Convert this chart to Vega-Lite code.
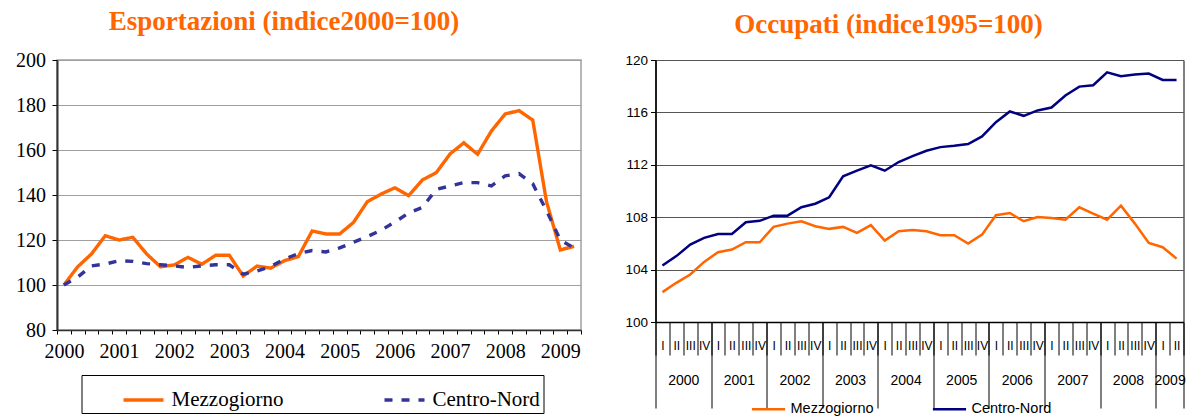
{
  "$schema": "https://vega.github.io/schema/vega-lite/v6.json",
  "background": "white",
  "padding": {"left": 14, "top": 7, "right": 0, "bottom": 0},
  "bounds": "flush",
  "spacing": 74.5,
  "config": {"view": {"stroke": null}, "font": "Liberation Sans", "axis": {"labelFlush": false, "labelOverlap": false}},
  "resolve": {"scale": {"color": "independent", "strokeDash": "independent"}, "legend": {"color": "independent", "strokeDash": "independent"}},
  "datasets": {
    "exp": [
      {"t": 2000.125, "s": "Mezzogiorno", "v": 100}, {"t": 2000.375, "s": "Mezzogiorno", "v": 108.1}, {"t": 2000.625, "s": "Mezzogiorno", "v": 113.8}, {"t": 2000.875, "s": "Mezzogiorno", "v": 121.9},
      {"t": 2001.125, "s": "Mezzogiorno", "v": 120}, {"t": 2001.375, "s": "Mezzogiorno", "v": 121.2}, {"t": 2001.625, "s": "Mezzogiorno", "v": 113.8}, {"t": 2001.875, "s": "Mezzogiorno", "v": 108.1},
      {"t": 2002.125, "s": "Mezzogiorno", "v": 108.9}, {"t": 2002.375, "s": "Mezzogiorno", "v": 112.3}, {"t": 2002.625, "s": "Mezzogiorno", "v": 109.2}, {"t": 2002.875, "s": "Mezzogiorno", "v": 113.2},
      {"t": 2003.125, "s": "Mezzogiorno", "v": 113.2}, {"t": 2003.375, "s": "Mezzogiorno", "v": 104}, {"t": 2003.625, "s": "Mezzogiorno", "v": 108.4}, {"t": 2003.875, "s": "Mezzogiorno", "v": 107.5},
      {"t": 2004.125, "s": "Mezzogiorno", "v": 110.8}, {"t": 2004.375, "s": "Mezzogiorno", "v": 112.6}, {"t": 2004.625, "s": "Mezzogiorno", "v": 124}, {"t": 2004.875, "s": "Mezzogiorno", "v": 122.7},
      {"t": 2005.125, "s": "Mezzogiorno", "v": 122.7}, {"t": 2005.375, "s": "Mezzogiorno", "v": 127.8}, {"t": 2005.625, "s": "Mezzogiorno", "v": 137}, {"t": 2005.875, "s": "Mezzogiorno", "v": 140.4},
      {"t": 2006.125, "s": "Mezzogiorno", "v": 143.2}, {"t": 2006.375, "s": "Mezzogiorno", "v": 139.7}, {"t": 2006.625, "s": "Mezzogiorno", "v": 146.7}, {"t": 2006.875, "s": "Mezzogiorno", "v": 149.9},
      {"t": 2007.125, "s": "Mezzogiorno", "v": 158.2}, {"t": 2007.375, "s": "Mezzogiorno", "v": 163.2}, {"t": 2007.625, "s": "Mezzogiorno", "v": 158.1}, {"t": 2007.875, "s": "Mezzogiorno", "v": 168.4},
      {"t": 2008.125, "s": "Mezzogiorno", "v": 176}, {"t": 2008.375, "s": "Mezzogiorno", "v": 177.5}, {"t": 2008.625, "s": "Mezzogiorno", "v": 173.3}, {"t": 2008.875, "s": "Mezzogiorno", "v": 137},
      {"t": 2009.125, "s": "Mezzogiorno", "v": 115.6}, {"t": 2009.375, "s": "Mezzogiorno", "v": 117.2},
      {"t": 2000.125, "s": "Centro-Nord", "v": 100}, {"t": 2000.375, "s": "Centro-Nord", "v": 103.5}, {"t": 2000.625, "s": "Centro-Nord", "v": 108.5}, {"t": 2000.875, "s": "Centro-Nord", "v": 109.3},
      {"t": 2001.125, "s": "Centro-Nord", "v": 110.8}, {"t": 2001.375, "s": "Centro-Nord", "v": 110.5}, {"t": 2001.625, "s": "Centro-Nord", "v": 109.5}, {"t": 2001.875, "s": "Centro-Nord", "v": 109},
      {"t": 2002.125, "s": "Centro-Nord", "v": 108.5}, {"t": 2002.375, "s": "Centro-Nord", "v": 107.8}, {"t": 2002.625, "s": "Centro-Nord", "v": 108.5}, {"t": 2002.875, "s": "Centro-Nord", "v": 109},
      {"t": 2003.125, "s": "Centro-Nord", "v": 109}, {"t": 2003.375, "s": "Centro-Nord", "v": 104.8}, {"t": 2003.625, "s": "Centro-Nord", "v": 106.2}, {"t": 2003.875, "s": "Centro-Nord", "v": 108.2},
      {"t": 2004.125, "s": "Centro-Nord", "v": 111.5}, {"t": 2004.375, "s": "Centro-Nord", "v": 114}, {"t": 2004.625, "s": "Centro-Nord", "v": 115.3}, {"t": 2004.875, "s": "Centro-Nord", "v": 114.7},
      {"t": 2005.125, "s": "Centro-Nord", "v": 116.5}, {"t": 2005.375, "s": "Centro-Nord", "v": 119}, {"t": 2005.625, "s": "Centro-Nord", "v": 121.5}, {"t": 2005.875, "s": "Centro-Nord", "v": 124.3},
      {"t": 2006.125, "s": "Centro-Nord", "v": 128}, {"t": 2006.375, "s": "Centro-Nord", "v": 132}, {"t": 2006.625, "s": "Centro-Nord", "v": 134.5}, {"t": 2006.875, "s": "Centro-Nord", "v": 142.5},
      {"t": 2007.125, "s": "Centro-Nord", "v": 144}, {"t": 2007.375, "s": "Centro-Nord", "v": 145.5}, {"t": 2007.625, "s": "Centro-Nord", "v": 145.5}, {"t": 2007.875, "s": "Centro-Nord", "v": 144},
      {"t": 2008.125, "s": "Centro-Nord", "v": 148.5}, {"t": 2008.375, "s": "Centro-Nord", "v": 149.5}, {"t": 2008.625, "s": "Centro-Nord", "v": 145}, {"t": 2008.875, "s": "Centro-Nord", "v": 133},
      {"t": 2009.125, "s": "Centro-Nord", "v": 120}, {"t": 2009.375, "s": "Centro-Nord", "v": 116.5}
    ],
    "occ": [
      {"t": 2000.125, "s": "Mezzogiorno", "v": 102.28}, {"t": 2000.375, "s": "Mezzogiorno", "v": 102.99}, {"t": 2000.625, "s": "Mezzogiorno", "v": 103.63}, {"t": 2000.875, "s": "Mezzogiorno", "v": 104.59},
      {"t": 2001.125, "s": "Mezzogiorno", "v": 105.33}, {"t": 2001.375, "s": "Mezzogiorno", "v": 105.53}, {"t": 2001.625, "s": "Mezzogiorno", "v": 106.09}, {"t": 2001.875, "s": "Mezzogiorno", "v": 106.09},
      {"t": 2002.125, "s": "Mezzogiorno", "v": 107.26}, {"t": 2002.375, "s": "Mezzogiorno", "v": 107.51}, {"t": 2002.625, "s": "Mezzogiorno", "v": 107.69}, {"t": 2002.875, "s": "Mezzogiorno", "v": 107.31},
      {"t": 2003.125, "s": "Mezzogiorno", "v": 107.11}, {"t": 2003.375, "s": "Mezzogiorno", "v": 107.26}, {"t": 2003.625, "s": "Mezzogiorno", "v": 106.8}, {"t": 2003.875, "s": "Mezzogiorno", "v": 107.39},
      {"t": 2004.125, "s": "Mezzogiorno", "v": 106.21}, {"t": 2004.375, "s": "Mezzogiorno", "v": 106.93}, {"t": 2004.625, "s": "Mezzogiorno", "v": 107.02}, {"t": 2004.875, "s": "Mezzogiorno", "v": 106.93},
      {"t": 2005.125, "s": "Mezzogiorno", "v": 106.62}, {"t": 2005.375, "s": "Mezzogiorno", "v": 106.62}, {"t": 2005.625, "s": "Mezzogiorno", "v": 105.99}, {"t": 2005.875, "s": "Mezzogiorno", "v": 106.67},
      {"t": 2006.125, "s": "Mezzogiorno", "v": 108.15}, {"t": 2006.375, "s": "Mezzogiorno", "v": 108.32}, {"t": 2006.625, "s": "Mezzogiorno", "v": 107.69}, {"t": 2006.875, "s": "Mezzogiorno", "v": 108.02},
      {"t": 2007.125, "s": "Mezzogiorno", "v": 107.94}, {"t": 2007.375, "s": "Mezzogiorno", "v": 107.81}, {"t": 2007.625, "s": "Mezzogiorno", "v": 108.76}, {"t": 2007.875, "s": "Mezzogiorno", "v": 108.27},
      {"t": 2008.125, "s": "Mezzogiorno", "v": 107.81}, {"t": 2008.375, "s": "Mezzogiorno", "v": 108.88}, {"t": 2008.625, "s": "Mezzogiorno", "v": 107.51}, {"t": 2008.875, "s": "Mezzogiorno", "v": 106.04},
      {"t": 2009.125, "s": "Mezzogiorno", "v": 105.71}, {"t": 2009.375, "s": "Mezzogiorno", "v": 104.84},
      {"t": 2000.125, "s": "Centro-Nord", "v": 104.31}, {"t": 2000.375, "s": "Centro-Nord", "v": 105.03}, {"t": 2000.625, "s": "Centro-Nord", "v": 105.91}, {"t": 2000.875, "s": "Centro-Nord", "v": 106.42},
      {"t": 2001.125, "s": "Centro-Nord", "v": 106.72}, {"t": 2001.375, "s": "Centro-Nord", "v": 106.72}, {"t": 2001.625, "s": "Centro-Nord", "v": 107.62}, {"t": 2001.875, "s": "Centro-Nord", "v": 107.72},
      {"t": 2002.125, "s": "Centro-Nord", "v": 108.12}, {"t": 2002.375, "s": "Centro-Nord", "v": 108.12}, {"t": 2002.625, "s": "Centro-Nord", "v": 108.76}, {"t": 2002.875, "s": "Centro-Nord", "v": 109.03},
      {"t": 2003.125, "s": "Centro-Nord", "v": 109.52}, {"t": 2003.375, "s": "Centro-Nord", "v": 111.12}, {"t": 2003.625, "s": "Centro-Nord", "v": 111.55}, {"t": 2003.875, "s": "Centro-Nord", "v": 111.96},
      {"t": 2004.125, "s": "Centro-Nord", "v": 111.55}, {"t": 2004.375, "s": "Centro-Nord", "v": 112.21}, {"t": 2004.625, "s": "Centro-Nord", "v": 112.66}, {"t": 2004.875, "s": "Centro-Nord", "v": 113.07},
      {"t": 2005.125, "s": "Centro-Nord", "v": 113.35}, {"t": 2005.375, "s": "Centro-Nord", "v": 113.45}, {"t": 2005.625, "s": "Centro-Nord", "v": 113.58}, {"t": 2005.875, "s": "Centro-Nord", "v": 114.17},
      {"t": 2006.125, "s": "Centro-Nord", "v": 115.25}, {"t": 2006.375, "s": "Centro-Nord", "v": 116.07}, {"t": 2006.625, "s": "Centro-Nord", "v": 115.74}, {"t": 2006.875, "s": "Centro-Nord", "v": 116.15},
      {"t": 2007.125, "s": "Centro-Nord", "v": 116.37}, {"t": 2007.375, "s": "Centro-Nord", "v": 117.29}, {"t": 2007.625, "s": "Centro-Nord", "v": 117.97}, {"t": 2007.875, "s": "Centro-Nord", "v": 118.07},
      {"t": 2008.125, "s": "Centro-Nord", "v": 119.06}, {"t": 2008.375, "s": "Centro-Nord", "v": 118.76}, {"t": 2008.625, "s": "Centro-Nord", "v": 118.89}, {"t": 2008.875, "s": "Centro-Nord", "v": 118.96},
      {"t": 2009.125, "s": "Centro-Nord", "v": 118.48}, {"t": 2009.375, "s": "Centro-Nord", "v": 118.48}
    ]
  },
  "hconcat": [
    {
      "title": {"text": "Esportazioni (indice2000=100)", "font": "Liberation Serif", "fontSize": 27, "fontWeight": "bold", "color": "#FF6600", "anchor": "middle", "frame": "group", "dx": -35, "offset": 14},
      "width": 524,
      "height": 270,
      "view": {"stroke": "#A0A0A0", "strokeWidth": 1.5},
      "data": {"name": "exp"},
      "mark": {"type": "line", "strokeWidth": 3.4, "strokeCap": "butt"},
      "encoding": {
        "x": {"field": "t", "type": "quantitative",
          "scale": {"domain": [2000, 2009.5], "nice": false, "zero": false},
          "axis": {"values": [2000, 2000.25, 2000.5, 2000.75, 2001, 2001.25, 2001.5, 2001.75, 2002, 2002.25, 2002.5, 2002.75, 2003, 2003.25, 2003.5, 2003.75, 2004, 2004.25, 2004.5, 2004.75, 2005, 2005.25, 2005.5, 2005.75, 2006, 2006.25, 2006.5, 2006.75, 2007, 2007.25, 2007.5, 2007.75, 2008, 2008.25, 2008.5, 2008.75, 2009, 2009.25, 2009.5],
            "title": null, "grid": false, "tickSize": 4, "tickColor": "#000", "domainColor": "#333", "domainWidth": 1.5,
            "labelFont": "Liberation Serif", "labelFontSize": 20, "labelColor": "#000", "labelPadding": 7, "labelOffset": 6.9,
            "labelExpr": "datum.value % 1 == 0 ? format(datum.value, 'd') : ''"}},
        "y": {"field": "v", "type": "quantitative",
          "scale": {"domain": [80, 200], "nice": false, "zero": false},
          "axis": {"values": [80, 100, 120, 140, 160, 180, 200], "title": null, "grid": true, "gridColor": "#A0A0A0", "gridWidth": 1,
            "tickSize": 5, "tickColor": "#000", "domainColor": "#333", "domainWidth": 2,
            "labelFont": "Liberation Serif", "labelFontSize": 20, "labelColor": "#000", "labelPadding": 6.5}},
        "color": {"field": "s", "type": "nominal",
          "scale": {"domain": ["Mezzogiorno", "Centro-Nord"], "range": ["#FF6600", "#333399"]},
          "legend": {"title": null, "orient": "none", "legendX": 24.5, "legendY": 315, "direction": "horizontal",
            "strokeColor": "#000", "padding": 3, "symbolType": "stroke", "symbolSize": 1600, "symbolStrokeWidth": 3.5, "symbolOffset": 37,
            "labelFont": "Liberation Serif", "labelFontSize": 21, "labelColor": "#000", "columnPadding": 62, "labelLimit": 0, "labelOffset": 6}},
        "strokeDash": {"field": "s", "type": "nominal",
          "scale": {"domain": ["Mezzogiorno", "Centro-Nord"], "range": [[1, 0], [8, 9]]},
          "legend": {"title": null, "orient": "none", "legendX": 24.5, "legendY": 315, "direction": "horizontal",
            "strokeColor": "#000", "padding": 3, "symbolType": "stroke", "symbolSize": 1600, "symbolStrokeWidth": 3.5, "symbolOffset": 37,
            "labelFont": "Liberation Serif", "labelFontSize": 21, "labelColor": "#000", "columnPadding": 62, "labelLimit": 0, "labelOffset": 6}}
      }
    },
    {
      "title": {"text": "Occupati (indice1995=100)", "font": "Liberation Serif", "fontSize": 27, "fontWeight": "bold", "color": "#FF6600", "anchor": "middle", "frame": "group", "dx": -31, "offset": 14},
      "width": 528,
      "height": 262,
      "view": {"stroke": "#000", "strokeWidth": 1},
      "data": {"name": "occ"},
      "encoding": {
        "y": {"field": "v", "type": "quantitative",
          "scale": {"domain": [100, 120], "nice": false, "zero": false},
          "axis": {"values": [100, 104, 108, 112, 116, 120], "title": null, "grid": true, "gridColor": "#555", "gridWidth": 1,
            "tickSize": 5, "tickColor": "#000", "domainColor": "#000", "domainWidth": 1.5,
            "labelFont": "Liberation Sans", "labelFontSize": 13.5, "labelColor": "#000", "labelPadding": 3}},
        "color": {"field": "s", "type": "nominal",
          "scale": {"domain": ["Mezzogiorno", "Centro-Nord"], "range": ["#FF6600", "#000080"]},
          "legend": {"title": null, "orient": "none", "legendX": 95, "legendY": 331, "direction": "horizontal",
            "padding": 0, "symbolType": "stroke", "symbolSize": 1100, "symbolStrokeWidth": 2.5,
            "labelFont": "Liberation Sans", "labelFontSize": 14.5, "labelColor": "#000", "columnPadding": 53, "labelLimit": 0, "labelOffset": 4}}
      },
      "layer": [
        {
          "transform": [{"filter": "datum.s == 'Centro-Nord'"}],
          "mark": {"type": "line", "strokeWidth": 2.5},
          "encoding": {
            "x": {"field": "t", "type": "quantitative",
              "scale": {"domain": [2000, 2009.5], "nice": false, "zero": false},
              "axis": {"orient": "bottom", "values": [2000, 2000.25, 2000.5, 2000.75, 2001, 2001.25, 2001.5, 2001.75, 2002, 2002.25, 2002.5, 2002.75, 2003, 2003.25, 2003.5, 2003.75, 2004, 2004.25, 2004.5, 2004.75, 2005, 2005.25, 2005.5, 2005.75, 2006, 2006.25, 2006.5, 2006.75, 2007, 2007.25, 2007.5, 2007.75, 2008, 2008.25, 2008.5, 2008.75, 2009, 2009.25, 2009.5],
                "title": null, "grid": false, "tickSize": 33, "tickColor": "#000", "tickWidth": 1, "domainColor": "#000", "domainWidth": 1.5,
                "labelFont": "Liberation Sans", "labelFontSize": 12, "labelColor": "#000", "labelPadding": -15, "labelOffset": 6.95,
                "labelExpr": "datum.value >= 2009.5 ? '' : ['I','II','III','IV'][round((datum.value % 1) * 4)]"}}
          }
        },
        {
          "transform": [{"filter": "datum.s == 'Mezzogiorno'"}],
          "mark": {"type": "line", "strokeWidth": 2.5},
          "encoding": {
            "x": {"field": "t", "type": "quantitative",
              "scale": {"domain": [2000, 2009.5], "nice": false, "zero": false},
              "axis": {"orient": "bottom", "values": [2000, 2001, 2002, 2003, 2004, 2005, 2006, 2007, 2008, 2009, 2009.5],
                "title": null, "grid": false, "domain": false, "tickSize": 86, "tickColor": "#000", "tickWidth": 1,
                "labelFont": "Liberation Sans", "labelFontSize": 14, "labelColor": "#000", "labelPadding": -35,
                "labelOffset": {"condition": {"test": "datum.value == 2009", "value": 13.9}, "value": 27.8},
                "labelExpr": "datum.value >= 2009.5 ? '' : format(datum.value, 'd')"}}
          }
        }
      ],
      "resolve": {"scale": {"x": "independent"}, "axis": {"x": "independent"}}
    }
  ]
}
